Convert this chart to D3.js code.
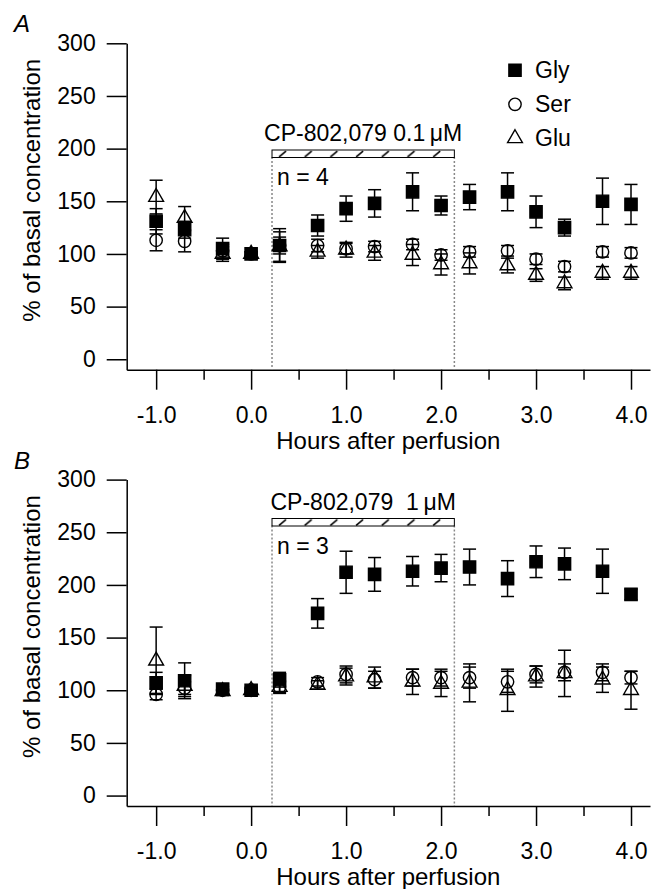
<!DOCTYPE html>
<html lang="en">
  <head>
    <meta charset="UTF-8" />
    <title>CP-802,079 perfusion</title>
    <script src="https://d3js.org/d3.v7.min.js"></script>
    <style>
      body {
        margin: 0;
        background: #fff;
        font-family: "Liberation Sans", Arial, sans-serif;
      }
      .axis path,
      .axis line {
        stroke: #000;
        stroke-width: 1.5;
      }
      .axis text {
        font-family: "Liberation Sans", Arial, sans-serif;
        font-size: 23px;
        fill: #000;
      }
    </style>
  </head>
  <body>
    <div id="chart"></div>
    <script>
      // time points (hours after perfusion)
      const hours = [-1.0, -0.7, -0.3, 0, 0.3, 0.7, 1.0, 1.3, 1.7, 2.0, 2.3, 2.7, 3.0, 3.3, 3.7, 4.0];

      // panel A: 0.1 uM
      const glyA = [131, 123, 105, 100, 108, 127, 143, 148, 159, 146, 154, 159, 140, 125, 150, 147];
      const glyAErr = [12, 8, 10, 2, 16, 10, 12, 13, 18, 9, 12, 18, 15, 8, 22, 19];
      const serA = [113, 112, 103, 100, 108, 108, 105, 107, 109, 99, 102, 103, 95, 88, 102, 101];
      const serAErr = [10, 10, 6, 2, 8, 6, 5, 5, 5, 5, 5, 5, 5, 5, 5, 5];
      const gluA = [154, 134, 100, 100, 107, 102, 104, 101, 99, 90, 91, 89, 80, 72, 82, 82];
      const gluAErr = [16, 11, 7, 2, 14, 6, 7, 7, 10, 10, 10, 7, 6, 6, 6, 6];

      // panel B: 1 uM
      const glyB = [107, 109, 101, 100, 110, 173, 212, 210, 213, 216, 217, 206, 222, 220, 213, 191];
      const glyBErr = [10, 17, 5, 3, 7, 14, 20, 16, 14, 13, 17, 17, 15, 15, 21, 5];
      const serB = [96, 102, 100, 100, 103, 108, 115, 110, 112, 112, 112, 108, 115, 117, 117, 112];
      const serBErr = [5, 6, 4, 2, 5, 4, 8, 8, 8, 8, 10, 10, 8, 8, 8, 6];
      const gluB = [128, 104, 99, 100, 103, 105, 113, 112, 108, 106, 107, 100, 113, 116, 110, 100];
      const gluBErr = [32, 10, 4, 2, 6, 4, 8, 10, 12, 12, 18, 20, 10, 22, 12, 18];

      const yTicks = [0, 50, 100, 150, 200, 250, 300];
      const xTicks = [-1, 0, 1, 2, 3, 4];
      const xMinor = [-0.5, 0.5, 1.5, 2.5, 3.5];
      const seriesNames = ["Gly", "Ser", "Glu"];
      const drugStart = 0.22;
      const drugEnd = 2.14;

      const width = 659;
      const height = 889;

      const svg = d3
        .select("#chart")
        .append("svg")
        .attr("width", width)
        .attr("height", height);

      const x = d3.scaleLinear().domain([-1.31, 4.2]).range([126.7, 650]);

      // hatch pattern for the drug bar (one per panel)
      const defs = svg.append("defs");
      function hatch(id, barY) {
        defs
          .append("pattern")
          .attr("id", id)
          .attr("patternUnits", "userSpaceOnUse")
          .attr("x", x(drugStart))
          .attr("y", barY)
          .attr("width", 25.7)
          .attr("height", 7.5)
          .append("path")
          .attr("d", "M7,7 L14,1")
          .attr("stroke", "#000")
          .attr("stroke-width", 1.6);
      }

      const sym = {
        Gly: d3.symbol().type(d3.symbolSquare).size(150),
        Ser: d3.symbol().type(d3.symbolCircle).size(120),
        Glu: d3.symbol().type(d3.symbolTriangle).size(95),
      };

      function drawMarker(g, name, cx, cy) {
        g.append("path")
          .attr("d", sym[name]())
          .attr("transform", `translate(${cx},${cy})`)
          .attr("fill", name === "Gly" ? "#000" : "none")
          .attr("stroke", "#000")
          .attr("stroke-width", 1.4);
      }

      function panel(p) {
        const top = p.top;
        const y = d3.scaleLinear().domain([-9.9, 300]).range([top + 326.4, top]);
        const axisY = top + 326.4;
        const g = svg.append("g");

        // panel letter
        g.append("text")
          .attr("x", 14)
          .attr("y", top - 11)
          .attr("font-size", 24)
          .attr("font-style", "italic")
          .text(p.letter);

        // y axis
        g.append("g")
          .attr("class", "axis")
          .attr("transform", `translate(${x.range()[0]},0)`)
          .call(d3.axisLeft(y).tickValues(yTicks).tickSize(20).tickSizeOuter(0).tickPadding(11));

        g.append("text")
          .attr("transform", `translate(40,${top + 147}) rotate(-90)`)
          .attr("text-anchor", "middle")
          .attr("font-size", 24)
          .text("% of basal concentration");

        // x axis
        g.append("g")
          .attr("class", "axis")
          .attr("transform", `translate(0,${axisY})`)
          .call(
            d3
              .axisBottom(x)
              .tickValues(xTicks)
              .tickSize(20)
              .tickSizeOuter(0)
              .tickPadding(17)
              .tickFormat((d) => d.toFixed(1))
          );
        g.append("g")
          .attr("class", "axis")
          .attr("transform", `translate(0,${axisY})`)
          .call(d3.axisBottom(x).tickValues(xMinor).tickSize(10).tickFormat(""))
          .select(".domain")
          .remove();

        g.append("text")
          .attr("x", (x.range()[0] + x.range()[1]) / 2)
          .attr("y", axisY + 79)
          .attr("text-anchor", "middle")
          .attr("font-size", 24)
          .text("Hours after perfusion");

        // drug bar + dotted lines
        const bx0 = x(drugStart);
        const bx1 = x(drugEnd);
        hatch("hatch" + p.letter, p.barY);
        [bx0, bx1].forEach((bx) => {
          g.append("line")
            .attr("x1", bx)
            .attr("x2", bx)
            .attr("y1", p.barY + 7)
            .attr("y2", axisY)
            .attr("stroke", "#888")
            .attr("stroke-width", 1.5)
            .attr("stroke-dasharray", "2,2");
        });
        g.append("rect")
          .attr("x", bx0)
          .attr("y", p.barY)
          .attr("width", bx1 - bx0)
          .attr("height", 7.5)
          .attr("fill", `url(#hatch${p.letter})`)
          .attr("stroke", "#000")
          .attr("stroke-width", 1);
        g.append("text")
          .attr("x", (bx0 + bx1) / 2)
          .attr("y", p.barY - 9)
          .attr("text-anchor", "middle")
          .attr("font-size", 23)
          .attr("xml:space", "preserve")
          .text(p.label);
        g.append("text")
          .attr("x", bx0 + 5)
          .attr("y", p.barY + 35)
          .attr("font-size", 23)
          .text(p.n);

        // error bars then markers
        p.series.forEach((s) => {
          hours.forEach((h, i) => {
            const cx = x(h);
            const lo = y(s.values[i] - s.err[i]);
            const hi = y(s.values[i] + s.err[i]);
            g.append("line")
              .attr("x1", cx).attr("x2", cx)
              .attr("y1", lo).attr("y2", hi)
              .attr("stroke", "#000").attr("stroke-width", 1.5);
            [lo, hi].forEach((yy) => {
              g.append("line")
                .attr("x1", cx - 6.5).attr("x2", cx + 6.5)
                .attr("y1", yy).attr("y2", yy)
                .attr("stroke", "#000").attr("stroke-width", 1.5);
            });
          });
        });
        p.series.forEach((s) => {
          hours.forEach((h, i) => drawMarker(g, s.name, x(h), y(s.values[i])));
        });

        // legend
        if (p.legend) {
          seriesNames.forEach((name, i) => {
            const ly = top + 27 + i * 34;
            drawMarker(g, name, 515, ly);
            g.append("text")
              .attr("x", 535)
              .attr("y", ly + 8)
              .attr("font-size", 23)
              .text(name);
          });
        }
      }

      panel({
        top: 43.3,
        letter: "A",
        barY: 150,
        label: "CP-802,079 0.1\u2009\u03bcM",
        n: "n = 4",
        legend: true,
        series: [
          { name: "Gly", values: glyA, err: glyAErr },
          { name: "Ser", values: serA, err: serAErr },
          { name: "Glu", values: gluA, err: gluAErr },
        ],
      });

      panel({
        top: 479.6,
        letter: "B",
        barY: 518.5,
        label: "CP-802,079  1\u2009\u03bcM",
        n: "n = 3",
        legend: false,
        series: [
          { name: "Gly", values: glyB, err: glyBErr },
          { name: "Ser", values: serB, err: serBErr },
          { name: "Glu", values: gluB, err: gluBErr },
        ],
      });
    </script>
  </body>
</html>
